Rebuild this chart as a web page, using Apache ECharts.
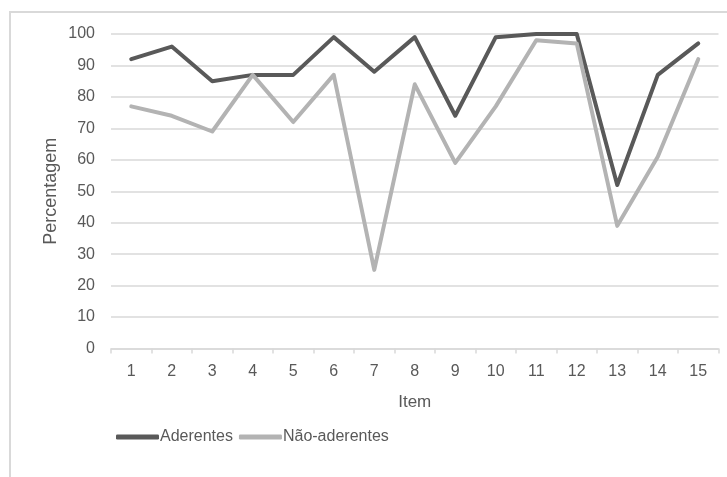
<!DOCTYPE html>
<html>
<head>
<meta charset="utf-8">
<script src="https://cdn.jsdelivr.net/npm/echarts@6/dist/echarts.min.js"></script>
<style>html,body{margin:0;padding:0;background:#fff;}#c{width:727px;height:477px;}</style>
</head>
<body>
<div id="c"></div>
<script>
const items = ['1','2','3','4','5','6','7','8','9','10','11','12','13','14','15'];
const aderentes = [92, 96, 85, 87, 87, 99, 88, 99, 74, 99, 100, 100, 52, 87, 97];
const naoAderentes = [77, 74, 69, 87, 72, 87, 25, 84, 59, 77, 98, 97, 39, 61, 92];
const yTicks = [0, 10, 20, 30, 40, 50, 60, 70, 80, 90, 100];

const FONT = '"Liberation Sans", "DejaVu Sans", sans-serif';
const chart = echarts.init(document.getElementById('c'), null, {renderer: 'canvas'});
chart.setOption({
  animation: false,
  backgroundColor: '#fff',
  textStyle: {fontFamily: FONT},
  graphic: [{
    type: 'rect', silent: true,
    shape: {x: 10, y: 12, width: 800, height: 600},
    style: {fill: 'none', stroke: '#d9d9d9', lineWidth: 2}
  }],
  grid: {left: 111, right: 8.5, top: 34, bottom: 128.5, containLabel: false},
  legend: {
    left: 111, top: 424,
    itemWidth: 43, itemHeight: 5, itemGap: 6,
    icon: 'roundRect',
    textStyle: {fontSize: 16, color: '#595959', fontFamily: FONT, padding: [0, 0, 0, -4]},
    data: ['Aderentes', 'Não-aderentes']
  },
  xAxis: {
    type: 'category', data: items, boundaryGap: true,
    name: 'Item', nameLocation: 'middle', nameGap: 45, nameMoveOverlap: false,
    nameTextStyle: {fontSize: 17, color: '#595959', fontFamily: FONT},
    axisLine: {lineStyle: {color: '#d9d9d9', width: 1.5}},
    axisTick: {show: true, length: 5, lineStyle: {color: '#d9d9d9', width: 1.5}},
    axisLabel: {fontSize: 16, color: '#595959', margin: 15, fontFamily: FONT},
    splitLine: {show: false}
  },
  yAxis: {
    type: 'value', min: yTicks[0], max: yTicks[yTicks.length - 1], interval: 10,
    name: 'Percentagem', nameLocation: 'middle', nameGap: 51, nameRotate: 90, nameMoveOverlap: false,
    nameTextStyle: {fontSize: 18, color: '#595959', fontFamily: FONT},
    axisLine: {show: false}, axisTick: {show: false},
    axisLabel: {fontSize: 16, color: '#595959', margin: 16, fontFamily: FONT},
    splitLine: {lineStyle: {color: '#d9d9d9', width: 1.5}}
  },
  series: [
    {name: 'Aderentes', type: 'line', data: aderentes, symbol: 'none',
     lineStyle: {color: '#595959', width: 4, cap: 'round', join: 'round'}, itemStyle: {color: '#595959'}},
    {name: 'Não-aderentes', type: 'line', data: naoAderentes, symbol: 'none',
     lineStyle: {color: '#b3b3b3', width: 4, cap: 'round', join: 'round'}, itemStyle: {color: '#b3b3b3'}}
  ]
});
</script>
</body>
</html>
